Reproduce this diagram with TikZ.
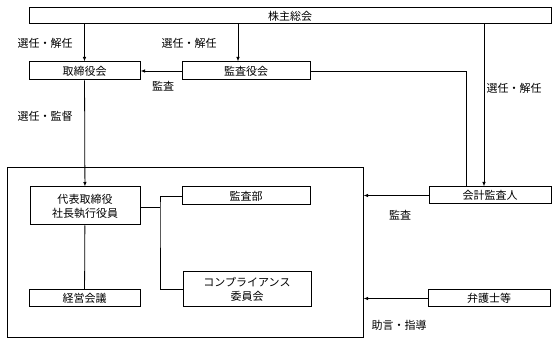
\documentclass[tikz,border=0pt]{standalone}
\usepackage{fontspec}
\newfontfamily\jpfont{Noto Sans CJK JP}
\usetikzlibrary{arrows.meta}

\begin{document}
\begin{tikzpicture}[x=1pt, y=-1pt, >={Latex[length=4.5pt,width=3.5pt]}, line width=0.8pt,
  font=\jpfont\fontsize{11}{14}\selectfont,
  unit/.style={draw, line width=1pt, inner sep=0pt, minimum height=18pt, align=center},
  lbl/.style={inner sep=0pt}]
\useasboundingbox (0,0) rectangle (559,344);
% boxes
\node[unit, minimum width=522pt, minimum height=16pt] (soukai) at (290,16) {株主総会};
\node[unit, minimum width=111pt] (torishimari) at (84.5,71) {取締役会};
\node[unit, minimum width=128pt] (kansayaku) at (246,71) {監査役会};
\node[draw, line width=1pt, minimum width=356pt, minimum height=169pt] (shikkou) at (185,252.5) {};
\node[unit, minimum width=110pt, minimum height=38pt] (daihyo) at (85,206) {代表取締役\\社長執行役員};
\node[unit, minimum width=128pt] (kansabu) at (246,196) {監査部};
\node[unit, minimum width=128pt, minimum height=35pt] (compliance) at (247,289.5) {コンプライアンス\\委員会};
\node[unit, minimum width=111pt, minimum height=17pt] (keiei) at (84.5,298.5) {経営会議};
\node[unit, minimum width=122pt, minimum height=17pt] (kaikei) at (490,195.5) {会計監査人};
\node[unit, minimum width=122pt, minimum height=17pt] (bengoshi) at (489,298.5) {弁護士等};
% labels
\node[lbl] (senninA) at (45,43) {選任・解任};
\node[lbl] (senninB) at (189,43) {選任・解任};
\node[lbl] (senninC) at (514,88) {選任・解任};
\node[lbl] (kansaA) at (163,86) {監査};
\node[lbl] (kantoku) at (45,116) {選任・監督};
\node[lbl] (kansaB) at (400,215) {監査};
\node[lbl] (jogen) at (399,325) {助言・指導};
% connectors
\coordinate (kyA) at (238,24);
\coordinate (kyB) at (484,24);
\coordinate (kaido) at (466,71);
\coordinate (bunki) at (160,207);
\draw[->] (torishimari |- soukai.south) -- (torishimari);
\draw[->] (kyA) -- (kyA |- kansayaku.north);
\draw[->] (kyB) -- (kyB |- kaikei.north);
\draw[->] (kansayaku) -- (torishimari);
\draw (kansayaku.east |- kaido) -- (kaido) -- (kaido |- kaikei.north);
\draw[->] (torishimari) -- (daihyo);
\draw (daihyo) -- (keiei);
\draw (daihyo.east |- bunki) -- (bunki);
\draw (kansabu.west) -| (bunki) |- (compliance.west);
\draw[->] (kaikei) -- (shikkou.east |- kaikei);
\draw[->] (bengoshi) -- (shikkou.east |- bengoshi);
\end{tikzpicture}
\end{document}
